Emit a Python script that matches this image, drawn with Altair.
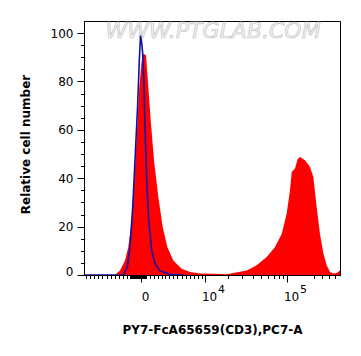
import altair as alt
import pandas as pd

# ---- data ----
red_x = [-2261, -1702, -1210, -918, -642, -469, -278, -106, 43, 145, 326, 491, 673, 943,
         1332, 1776, 2298, 3079, 4396, 6010, 8473, 12917, 19190, 23230, 33750, 44370,
         58140, 72560, 86640, 98950, 107900, 112900, 123100, 132100, 140300, 160000,
         182300, 198800, 216900, 236500, 258100, 281300, 306900, 334200, 365200, 397700]
red_y = [0, 1.9, 6, 11.6, 22.6, 36.4, 57, 77.7, 88.7, 91.5, 90.8, 77.7, 64, 47.4,
         32.2, 19.8, 11.6, 6, 2.6, 1.2, 0.6, 0.5, 0.3, 0.8, 1.9, 4,
         7.4, 11.6, 17, 25.4, 35, 42.6, 44, 48, 48.8, 47.4,
         44.6, 40.5, 28, 17, 9, 4, 1.2, 0.6, 0.8, 1.9]

blue_x = [-7930, -1370, -1004, -777, -565, -375, -210, -106, -30, 43, 106, 191, 278,
          375, 520, 753, 1030, 1497, 2634, 4681]
blue_y = [0, 0, 3.3, 11.6, 28, 50, 70.8, 88.7, 99, 96, 91.5, 77.7, 57,
          39, 22.6, 10.2, 4.7, 1.7, 0.3, 0]

x_major = [0, 10000, 100000]
x_minor = ([-7500, -6450, -5600, -4750, -4050, -3370, -2800, -2260, -1810, -1370, -1000]
           + [v for v in range(-800, 301, 50) if v != 0]
           + [620, 940, 1300, 1700, 2000, 2500, 3100, 3700, 4400, 5100, 6000, 6900, 8000, 9100]
           + [20000, 30000, 40000, 50000, 60000, 70000, 80000, 90000]
           + [200000, 250000, 300000, 350000])
sup_x = [10000, 100000]
sup_t = ["4", "5"]
y_major = [0, 20, 40, 60, 80, 100]
y_minor = [v for v in range(0, 101, 5) if v % 20 != 0]
watermark = ["WWW.PTGLAB.COM"]

x_title = "PY7-FcA65659(CD3),PC7-A"
y_title = "Relative cell number"

xscale = alt.Scale(type="symlog", constant=2370, domain=[-7930, 397700], nice=False, zero=False)
yscale = alt.Scale(domain=[0, 105], nice=False, zero=False)

common = dict(domainColor="black", tickColor="black", labelColor="black",
              labelFont="DejaVu Sans", labelFontSize=12, grid=False,
              titleFont="DejaVu Sans", titleFontSize=12, titleFontWeight="bold",
              titleColor="black", labelOverlap=False, labelFlush=False)

x_axis_minor = alt.Axis(values=x_minor, tickSize=3.5, labels=False, orient="bottom",
                        titleY=58, titleBaseline="alphabetic", **common)
x_axis_major = alt.Axis(values=x_major, tickSize=7, orient="bottom",
                        labelExpr="datum.value == 0 ? '0' : '10'",
                        labelAlign="center", labelOffset=4, labelPadding=9, **common)
y_axis_minor = alt.Axis(values=y_minor, tickSize=3.5, labels=False, orient="left",
                        titleX=-52, titleY=123, **common)
y_axis_major = alt.Axis(values=y_major, tickSize=7, orient="left", labelPadding=4,
                        labelOffset={"condition": {"test": "datum.value == 0", "value": -4}, "value": 0},
                        **common)

red_df = pd.DataFrame({"x": red_x, "y": red_y})
blue_df = pd.DataFrame({"x": blue_x, "y": blue_y})
sup_df = pd.DataFrame({"x": sup_x, "t": sup_t})
wm_df = pd.DataFrame({"t": watermark})

wm = alt.Chart(wm_df).mark_text(
    font="DejaVu Sans", fontStyle="italic", fontSize=22, fill="#f6f6f6",
    stroke="#c2c2c2", strokeWidth=0.7, align="center", baseline="top"
).encode(text="t:N", x=alt.value(129), y=alt.value(0))

red = alt.Chart(red_df).mark_area(color="#ff0000", interpolate="linear", clip=True).encode(
    x=alt.X("x:Q", scale=xscale, axis=x_axis_minor, title=x_title),
    y=alt.Y("y:Q", scale=yscale, axis=y_axis_minor, title=y_title),
)
blue = alt.Chart(blue_df).mark_line(color="#1010a8", strokeWidth=1.6, clip=True).encode(
    x=alt.X("x:Q", scale=xscale, axis=x_axis_major, title=None),
    y=alt.Y("y:Q", scale=yscale, axis=y_axis_major, title=None),
)
sup = alt.Chart(sup_df).mark_text(
    font="DejaVu Sans", fontSize=11, align="left", baseline="alphabetic", dx=13, color="black"
).encode(x=alt.X("x:Q", scale=xscale, axis=None), y=alt.value(272), text="t:N")

chart = alt.layer(wm, red, blue, sup).resolve_axis(x="independent", y="independent").properties(
    width=256, height=254,
    background="white",
    autosize=alt.AutoSizeParams(type="none"),
    padding={"left": 76, "top": 13, "right": 5, "bottom": 70},
).configure_view(stroke="black", strokeWidth=1)

chart.save("out.html", embed_options={"renderer": "svg", "actions": False})
